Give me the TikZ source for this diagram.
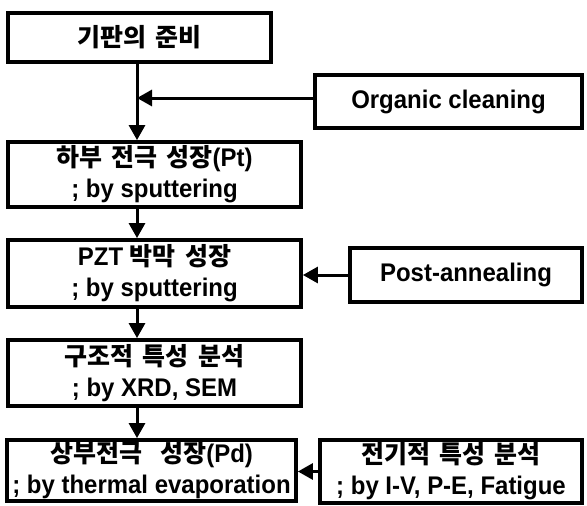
\documentclass[tikz,border=0pt]{standalone}
\usepackage{fontspec}
\setmainfont{Liberation Sans}[FakeStretch=0.94]
\newfontfamily\kr{Noto Sans CJK KR Bold}[Scale=0.98,WordSpace=1.6]
\usetikzlibrary{arrows.meta}
\begin{document}
\begin{tikzpicture}[x=1pt,y=-1pt,
  box/.style={draw=black,line width=3.8pt,fill=white,inner sep=0pt,align=center,
    font=\fontsize{25.5}{31}\selectfont\bfseries},
  arr/.style={line width=3pt,-{Triangle[length=15pt,width=16pt]}}]
\useasboundingbox (0,0) rectangle (587,506);
\node[box,minimum width=263pt,minimum height=49pt] (b1) at (139.5,37.5) {{\kr 기판의 준비}};
\node[box,minimum width=267pt,minimum height=53pt] (oc) at (448.5,101.5) {Organic cleaning};
\node[box,minimum width=293pt,minimum height=65pt] (b2) at (154.5,174.5) {{\kr 하부 전극 성장}(Pt)\\; by sputtering};
\node[box,minimum width=293pt,minimum height=67pt] (b3) at (154.5,273.5) {PZT {\kr 박막 성장}\\; by sputtering};
\node[box,minimum width=232pt,minimum height=54pt] (pa) at (466,275) {Post-annealing};
\node[box,minimum width=293pt,minimum height=66pt] (b4) at (154.5,373) {{\kr 구조적 특성 분석}\\; by XRD, SEM};
\node[box,minimum width=289pt,minimum height=61pt] (b5) at (151.5,470.5) {{\kr 상부전극\ \ 성장}(Pd)\\; by thermal evaporation};
\node[box,minimum width=262pt,minimum height=63pt] (b6) at (451,471.5) {{\kr 전기적 특성 분석}\\; by I-V, P-E, Fatigue};
\coordinate (ax) at (137,0);
\coordinate (s) at ([yshift=3.5pt]oc.west);
\draw[arr] (b1.south -| ax) -- (b2.north -| ax);
\draw[arr] (s) -- (ax |- s);
\draw[arr] (b2.south -| ax) -- (b3.north -| ax);
\draw[arr] (pa.west) -- (b3.east |- pa.west);
\draw[arr] (b3.south -| ax) -- (b4.north -| ax);
\draw[arr] (b4.south -| ax) -- (b5.north -| ax);
\draw[arr] (b6.west) -- (b5.east |- b6.west);
\end{tikzpicture}
\end{document}
